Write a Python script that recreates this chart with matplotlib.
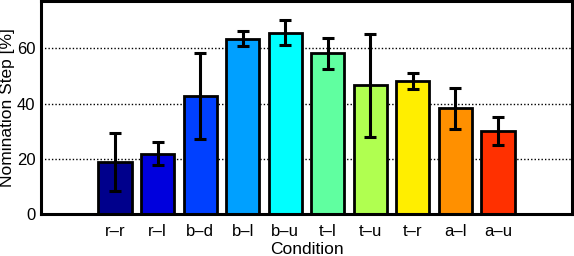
import matplotlib
matplotlib.use("Agg")
import matplotlib.pyplot as plt
import numpy as np

plt.rcParams['font.family'] = ['Liberation Sans', 'DejaVu Sans']

categories = ["r\u2013r", "r\u2013l", "b\u2013d", "b\u2013l", "b\u2013u",
              "t\u2013l", "t\u2013u", "t\u2013r", "a\u2013l", "a\u2013u"]
values = [18.8, 21.9, 42.6, 63.5, 65.7, 58.2, 46.6, 48.1, 38.3, 30.0]
errors = [10.4, 4.0, 15.6, 2.7, 4.6, 5.6, 18.7, 3.0, 7.5, 5.0]
colors = ["#00008c", "#0000dd", "#0040ff", "#00a0ff", "#00ffff",
          "#60ffa0", "#b0ff50", "#ffee00", "#ff9000", "#ff3000"]
yticks = [0, 20, 40, 60]

fig = plt.figure(figsize=(5.74, 2.56), dpi=100)
ax = fig.add_axes([0.0714, 0.164, 0.9251, 0.834])

x = np.arange(1, len(categories) + 1)
ax.set_axisbelow(True)
ax.yaxis.grid(True, linestyle=(0, (1, 1.5)), color="black", linewidth=1.0)
ax.bar(x, values, width=0.78, color=colors, edgecolor="black", linewidth=2.0, zorder=2)
ax.errorbar(x, values, yerr=errors, fmt="none", ecolor="black", elinewidth=2.2,
            capsize=4.3, capthick=2.2, zorder=3)

ax.set_xlim(-0.74, 11.74)
ax.set_ylim(0, 77.3)
ax.set_xticks(x)
ax.set_xticklabels(categories, fontsize=12)
ax.set_yticks(yticks)
ax.set_yticklabels([str(v) for v in yticks], fontsize=12)
ax.tick_params(axis="y", length=0, pad=4)
ax.tick_params(axis="x", length=0, pad=7)
for s in ax.spines.values():
    s.set_linewidth(2.2)
ax.set_xlabel("Condition", fontsize=12.5, labelpad=2)
ax.set_ylabel("Nomination Step [%]", fontsize=12.5)
ax.yaxis.set_label_coords(-0.048, 0.5)

fig.savefig("out.png", dpi=100)
